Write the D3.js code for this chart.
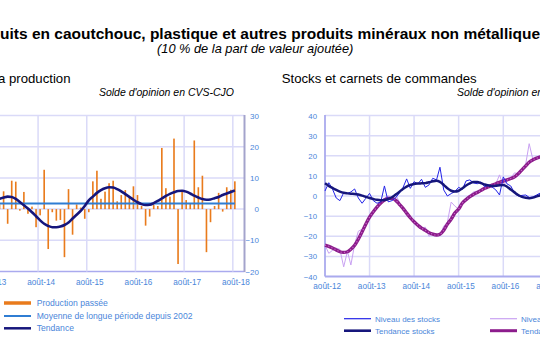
<!DOCTYPE html>
<html>
<head>
<meta charset="utf-8">
<script src="https://cdn.jsdelivr.net/npm/d3@7"></script>
<style>
  body { margin: 0; background: #fff; }
  svg { display: block; font-family: "Liberation Sans", Arial, sans-serif; }
</style>
</head>
<body>
<div id="chart"></div>
<script>
// ---- data: left panel (production), monthly from août-13
var prodStart = new Date(2013, 7, 1)
var prodValues = [2, 3, 1.5, 5.7, -4.7, 9.1, 8.8, -0.5, 5.5, -1.5, 0.8, -5.8,
  -2, 12.6, -12.8, -1, -3.7, -3.5, -15.4, 6.4, -8.2, 1.5, 0.5, -3.1,
  -1, 8.9, 12.3, 3.3, 5.6, 8.3, 9.1, 2.5, 4.5, 6.1, 3.8, 7.3,
  4.5, 1, -5.3, -2.4, 1.3, 1, 19.6, 6.7, 4, 22.6, -17.6, 5.9,
  2.9, 1.7, 22, 7, 10.7, -13.8, -4.2, 1, 5.2, -0.8, 7, 6.2,
  8.9, null, null]
var prodTrend = [1.8, 2.6, 3.3, 3.7, 4.0, 3.9, 3.3, 2.3, 1.2, 0.2, -1.0, -2.3,
  -3.6, -4.7, -5.4, -5.8, -5.8, -5.6, -5.1, -4.3, -3.0, -1.8, -0.6, 1.0,
  2.8, 4.0, 5.2, 6.1, 6.7, 7.0, 6.9, 6.4, 5.7, 4.8, 3.9, 3.0,
  2.2, 1.6, 1.3, 1.4, 1.9, 2.6, 3.4, 4.2, 4.9, 5.4, 5.8, 5.9,
  5.6, 5.0, 4.3, 3.7, 3.2, 3.0, 3.1, 3.5, 3.9, 4.5, 5.0, 5.5,
  6.0]
var prodMean = 1.8
var prodTicks = [30, 20, 10, 0, -10, -20]

// ---- data: right panel (stocks / carnets), monthly from août-12
var stockStart = new Date(2012, 7, 1)
var stockLevel = [2.5, 6.6, 3.5, -1, -2.3, 1.6, 1.3, 2, 3.5, -1, -3.6, -1.2,
  1.3, -2.3, -3.6, -3, 5, -2.9, -2.3, -1, 1.3, 4, 8.5, 3.8,
  7.1, 6, 8.3, 4.3, 5.5, 8.8, 8, 14.3, 3, 0, 1.2, 2.2,
  4.3, 3.3, 7.5, 8, 6.5, 6.1, 7, 4.6, 5.5, 4.5, 3, 0.5,
  9.5, 6, 5, 1.5, 0, 0.3, 0.5, -0.7, -0.5, 0.5, 1.5]
var stockTrend = [6.3, 5.0, 4.0, 3.0, 2.2, 1.6, 1.3, 1.1, 1.0, 0.7, 0.2, -0.4,
  -1.0, -1.5, -1.9, -2.1, -2.0, -1.5, -0.6, 0.6, 2.0, 3.5, 4.7, 5.5,
  6.0, 6.2, 6.3, 6.4, 6.8, 7.3, 7.6, 7.0, 5.5, 3.8, 2.6, 2.2,
  2.6, 3.8, 5.2, 6.3, 6.9, 6.9, 6.4, 5.7, 5.2, 5.0, 5.1, 5.4,
  5.5, 4.6, 3.2, 1.8, 0.5, -0.4, -0.9, -1.1, -0.8, -0.2, 0.4]
var orderLevel = [-24.4, -28.5, -27, -26, -26.5, -35.2, -27.5, -34.3, -24, -17.5, -16.5, -14,
  -10.5, -7.5, -5, -3, -1, 0, -1, 1.2, -3, -7, -8, -10.5,
  -13, -15, -16, -15.5, -20, -18.5, -19, -19.5, -15, -13, -3, -5,
  -6.5, -3.5, -1, 0.5, 2, 2.5, 2, 4, 5, 4, 6, 10.5,
  5, 8, 9, 11.5, 11, 13, 16, 26, 18, 19, 20]
var orderTrend = [-24.4, -25, -25.8, -26.8, -27.7, -28, -27.7, -26.5, -24.5, -21.5, -17.8, -14,
  -10.5, -7.8, -5.5, -3.5, -2, -1.2, -1.2, -2, -4, -6, -8.5, -10.8,
  -12.8, -14.5, -16, -17, -18.2, -19, -19.4, -19, -17, -14, -11.5, -8.5,
  -6.5, -3.5, -1.8, -0.3, 0.8, 1.8, 2.8, 3.8, 4.6, 5.4, 6.1, 6.8,
  7.4, 8, 8.7, 9.5, 11, 13, 15, 16.8, 18, 18.8, 19.4]
var stockTicks = [40, 30, 20, 10, 0, -10, -20, -30, -40]

// colours
var orange = "#E97B1C"
var meanBlue = "#2F7DD3"
var navy = "#16167C"
var stockBlue = "#2323E8"
var lilac = "#C9A2F2"
var purple = "#8C1C8C"
var gridCol = "#DADAF8"
var frameCol = "#AAAAEE"
var labelCol = "#4A86DA"

var width = 540
var height = 353

var svg = d3.select('#chart').append('svg')
    .attr('width', width)
    .attr('height', height)

var monthLabel = d => "août-" + String(d.getFullYear()).slice(2)

// ---- titles
svg.append('text')
    .attr('x', 256.7).attr('y', 38.5)
    .attr('text-anchor', 'middle')
    .style('font-size', '15.5px').style('font-weight', 'bold')
    .text("Produits en caoutchouc, plastique et autres produits minéraux non métalliques")
svg.append('text')
    .attr('x', 255.2).attr('y', 53)
    .attr('text-anchor', 'middle')
    .style('font-size', '12.8px').style('font-style', 'italic')
    .text("(10 % de la part de valeur ajoutée)")

svg.append('text')
    .attr('x', 70.5).attr('y', 83)
    .attr('text-anchor', 'end')
    .style('font-size', '13.2px')
    .text("La production")
svg.append('text')
    .attr('x', 234).attr('y', 95.5)
    .attr('text-anchor', 'end')
    .style('font-size', '10.5px').style('font-style', 'italic')
    .text("Solde d'opinion en CVS-CJO")

svg.append('text')
    .attr('x', 281.7).attr('y', 83)
    .style('font-size', '13.2px')
    .text("Stocks et carnets de commandes")
svg.append('text')
    .attr('x', 457).attr('y', 95.5)
    .style('font-size', '10.5px').style('font-style', 'italic')
    .text("Solde d'opinion en CVS-CJO")

// ================= left panel =================
var prodMonths = d3.timeMonth.range(prodStart, d3.timeMonth.offset(prodStart, prodValues.length))
var prodData = prodMonths.map((d, i) => ({ date: d, value: prodValues[i], trend: prodTrend[i] }))

var xL = d3.scaleBand()
    .domain(prodMonths)
    .range([-10.6, 245])
    .paddingInner(0.6)
    .paddingOuter(0.3)
var stepL = xL.step()
var yL = d3.scaleLinear().domain([-20, 30]).range([271.5, 115.5])
var leftEdge = -12
var rightEdge = 244.5
var augL = prodMonths.filter(d => d.getMonth() === 7)

var left = svg.append('g')

// grid
left.selectAll('.hgrid').data(prodTicks).join('line')
    .attr('x1', leftEdge).attr('x2', rightEdge)
    .attr('y1', d => yL(d)).attr('y2', d => yL(d))
    .attr('stroke', d => d === -20 ? frameCol : gridCol)
    .attr('stroke-width', 1.5)
left.selectAll('.vgrid').data(augL).join('line')
    .attr('x1', d => xL(d) - 0.3 * stepL).attr('x2', d => xL(d) - 0.3 * stepL)
    .attr('y1', yL(30)).attr('y2', yL(-20))
    .attr('stroke', gridCol)
    .attr('stroke-width', 1.5)

// bars
left.append('g').selectAll('rect')
    .data(prodData.filter(d => d.value != null))
    .join('rect')
    .attr('x', d => xL(d.date))
    .attr('width', xL.bandwidth())
    .attr('y', d => yL(Math.max(0, d.value)))
    .attr('height', d => Math.abs(yL(d.value) - yL(0)))
    .attr('fill', orange)

var lastL = prodData.filter(d => d.trend != null)
var cx = d => xL(d.date) + xL.bandwidth() / 2

// long-term mean
left.append('line')
    .attr('x1', leftEdge).attr('x2', cx(lastL[lastL.length - 1]))
    .attr('y1', yL(prodMean)).attr('y2', yL(prodMean))
    .attr('stroke', meanBlue).attr('stroke-width', 2)

// trend
left.append('path')
    .datum(lastL)
    .attr('fill', 'none')
    .attr('stroke', navy)
    .attr('stroke-width', 2.6)
    .attr('d', d3.line().x(cx).y(d => yL(d.trend)).curve(d3.curveMonotoneX))

// right axis frame
left.append('line')
    .attr('x1', rightEdge).attr('x2', rightEdge)
    .attr('y1', yL(30) - 0.5).attr('y2', yL(-20) + 0.5)
    .attr('stroke', '#A4A4CC').attr('stroke-width', 2)

// axes
var yAxisL = left.append('g')
    .attr('transform', `translate(${rightEdge}, 0)`)
    .call(d3.axisRight(yL).tickValues(prodTicks).tickSize(0).tickPadding(0))
yAxisL.select('.domain').remove()
yAxisL.selectAll('text')
    .attr('x', 14.5).attr('dy', '0.32em')
    .attr('text-anchor', 'end')
    .style('font-size', '8px').attr('fill', labelCol)

var xAxisL = left.append('g')
    .attr('transform', `translate(0, ${yL(-20)})`)
    .call(d3.axisBottom(xL).tickValues(augL).tickFormat(monthLabel).tickSize(0).tickPadding(0))
xAxisL.select('.domain').remove()
xAxisL.selectAll('text')
    .attr('y', 13.5).attr('dy', 0).attr('dx', 1)
    .style('font-size', '8.2px').attr('fill', labelCol)

// legend left
var legL = [
    { label: "Production passée", color: orange, w: 3.5, y: 303 },
    { label: "Moyenne de longue période depuis 2002", color: meanBlue, w: 2, y: 316 },
    { label: "Tendance", color: navy, w: 2.5, y: 328.3 }
]
legL.forEach(s => {
    svg.append('line')
        .attr('x1', 4).attr('x2', 31).attr('y1', s.y).attr('y2', s.y)
        .attr('stroke', s.color).attr('stroke-width', s.w)
    svg.append('text')
        .attr('x', 36.7).attr('y', s.y + 3)
        .style('font-size', '8.6px').attr('fill', labelCol)
        .text(s.label)
})

// ================= right panel =================
var nR = stockLevel.length
var rData = d3.range(nR).map(i => ({
    date: d3.timeMonth.offset(stockStart, i),
    sl: stockLevel[i], st: stockTrend[i], ol: orderLevel[i], ot: orderTrend[i]
}))

var xR = d3.scaleTime()
    .domain([new Date(2012, 7, 1), new Date(2016, 7, 1)])
    .range([325, 503.3])
var yR = d3.scaleLinear().domain([-40, 40]).range([276.5, 115.5])
var augR = d3.range(2013, 2018).map(y => new Date(y, 7, 1))

var right = svg.append('g')

right.selectAll('.hgrid').data(stockTicks.filter(d => d > -40)).join('line')
    .attr('x1', 325).attr('x2', 560)
    .attr('y1', d => yR(d)).attr('y2', d => yR(d))
    .attr('stroke', gridCol).attr('stroke-width', 1.5)
right.selectAll('.vgrid').data(augR).join('line')
    .attr('x1', d => xR(d)).attr('x2', d => xR(d))
    .attr('y1', yR(40)).attr('y2', yR(-40))
    .attr('stroke', gridCol).attr('stroke-width', 1.5)

// frame
right.append('line')
    .attr('x1', 325).attr('x2', 325).attr('y1', yR(40) - 0.5).attr('y2', yR(-40))
    .attr('stroke', frameCol).attr('stroke-width', 1.8)
right.append('line')
    .attr('x1', 325).attr('x2', 560).attr('y1', yR(-40)).attr('y2', yR(-40))
    .attr('stroke', frameCol).attr('stroke-width', 1.8)

var lineR = key => d3.line().x(d => xR(d.date)).y(d => yR(d[key]))

right.append('path').datum(rData)
    .attr('fill', 'none').attr('stroke', lilac).attr('stroke-width', 1)
    .attr('d', lineR('ol'))
right.append('path').datum(rData)
    .attr('fill', 'none').attr('stroke', purple).attr('stroke-width', 3.4)
    .attr('d', lineR('ot').curve(d3.curveMonotoneX))
right.append('path').datum(rData)
    .attr('fill', 'none').attr('stroke', '#C86EC8').attr('stroke-width', 1.1)
    .attr('stroke-dasharray', '1.2 2.2')
    .attr('d', lineR('ot').curve(d3.curveMonotoneX))
right.append('path').datum(rData)
    .attr('fill', 'none').attr('stroke', stockBlue).attr('stroke-width', 1)
    .attr('d', lineR('sl'))
right.append('path').datum(rData)
    .attr('fill', 'none').attr('stroke', navy).attr('stroke-width', 2.5)
    .attr('d', lineR('st').curve(d3.curveMonotoneX))

var yAxisR = right.append('g')
    .attr('transform', 'translate(325, 0)')
    .call(d3.axisLeft(yR).tickValues(stockTicks).tickSize(0).tickPadding(8))
yAxisR.select('.domain').remove()
yAxisR.selectAll('text').style('font-size', '7.8px').attr('fill', labelCol)

var xAxisR = right.append('g')
    .attr('transform', `translate(0, ${yR(-40)})`)
    .call(d3.axisBottom(xR).tickValues([new Date(2012, 7, 1)].concat(augR)).tickFormat(monthLabel).tickSize(0).tickPadding(0))
xAxisR.select('.domain').remove()
xAxisR.selectAll('text')
    .attr('y', 12.5).attr('dy', 0).attr('dx', 1.7)
    .style('font-size', '8.2px').attr('fill', labelCol)

// legend right
var legR = [
    { label: "Niveau des stocks", color: stockBlue, w: 1.2, x: 344, y: 318.7 },
    { label: "Tendance stocks", color: navy, w: 2.6, x: 344, y: 330.7 },
    { label: "Niveau des carnets de commandes", color: lilac, w: 1.2, x: 490, y: 318.7 },
    { label: "Tendance carnets de commandes", color: purple, w: 3, x: 490, y: 330.7 }
]
legR.forEach(s => {
    svg.append('line')
        .attr('x1', s.x).attr('x2', s.x + 27).attr('y1', s.y).attr('y2', s.y)
        .attr('stroke', s.color).attr('stroke-width', s.w)
    svg.append('text')
        .attr('x', s.x + 31).attr('y', s.y + 3)
        .style('font-size', '8px').attr('fill', labelCol)
        .text(s.label)
})
</script>
</body>
</html>
